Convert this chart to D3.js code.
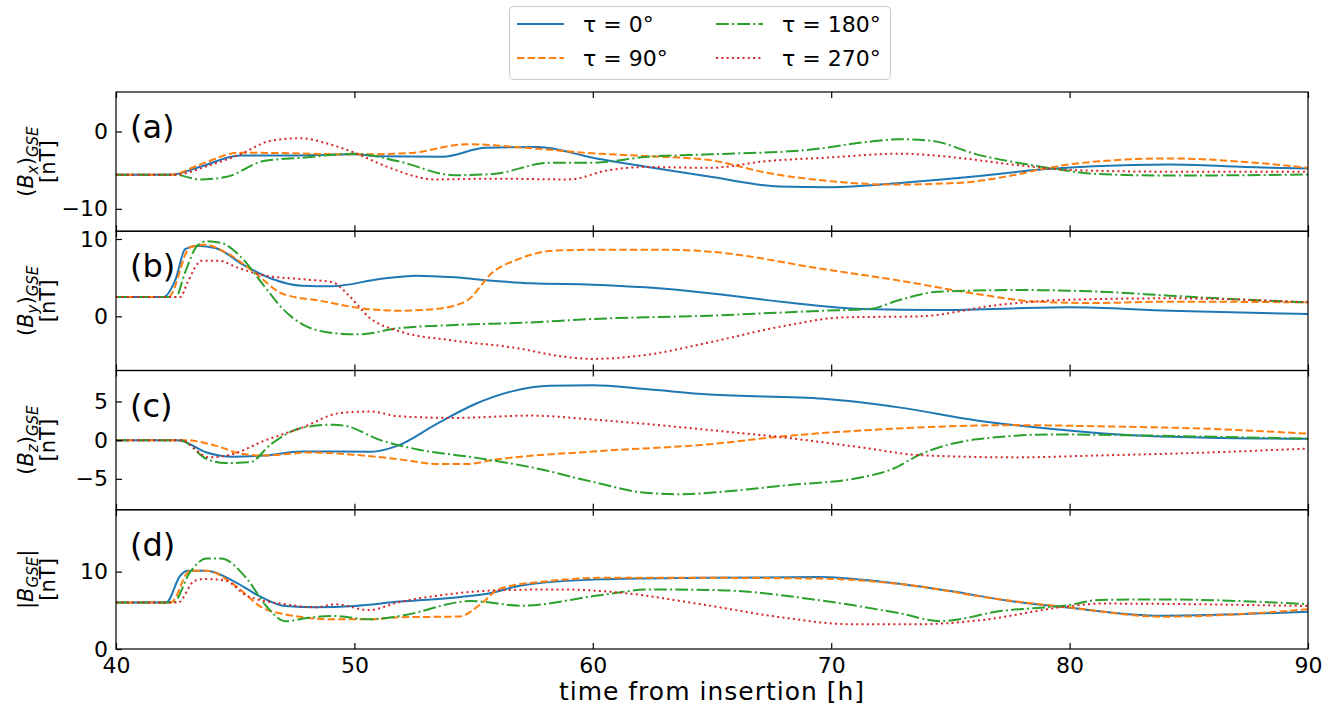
<!DOCTYPE html>
<html><head><meta charset="utf-8">
<script src="https://cdn.jsdelivr.net/npm/d3@7"></script>
<style>body{margin:0;background:#fff}svg{display:block}</style>
</head><body>
<svg id="chart" width="1336" height="709"></svg>
<script>
// ---------- data (time [h], value [nT]) ----------
const seriesNames = ["τ = 0°", "τ = 90°", "τ = 180°", "τ = 270°"];
const xTicks = [40, 50, 60, 70, 80, 90];

const bx_tau0 = [[40,-5.6],[42.3,-5.6],[43.5,-4.6],[45.2,-3.1],[47,-3.1],[50,-2.96],[51,-3.2],[53.7,-3.26],[55.5,-2.1],[57.7,-2.0],[60,-3.4],[62.5,-4.7],[65,-5.9],[67.8,-7.1],[70,-7.2],[72.9,-6.65],[76.1,-5.8],[78.9,-4.9],[81,-4.5],[84.2,-4.26],[87.4,-4.6],[90,-4.8]];
const bx_tau90 = [[40,-5.6],[42.3,-5.6],[43.5,-4.3],[45.2,-2.74],[47,-2.8],[50,-2.96],[52.3,-2.8],[54.7,-1.65],[57.4,-2.17],[60,-2.83],[62.2,-3.17],[64.9,-3.7],[67.3,-5.35],[69.7,-6.35],[72.6,-6.87],[75.3,-6.65],[77.4,-5.8],[78.9,-4.83],[80.2,-4.17],[84.2,-3.48],[87.4,-3.96],[90,-4.7]];
const bx_tau180 = [[40,-5.6],[42.5,-5.6],[43.5,-6.2],[44.6,-5.9],[46.2,-3.83],[47.8,-3.4],[50,-2.87],[51.8,-3.83],[54.2,-5.65],[55.8,-5.5],[58.2,-4.04],[60,-4.04],[62.2,-3.3],[64.9,-2.96],[68.9,-2.43],[71.3,-1.43],[72.9,-1.0],[74.2,-1.2],[76.1,-2.96],[77.8,-4.04],[79.4,-4.83],[81,-5.48],[84.2,-5.7],[90,-5.57]];
const bx_tau270 = [[40,-5.6],[42.5,-5.6],[43.8,-4.5],[45.2,-2.96],[46.5,-1.2],[47.8,-0.87],[48.7,-1.43],[50,-2.74],[51.3,-4.48],[53.4,-6.2],[55.8,-6.1],[59,-6.2],[60.6,-5.04],[62.2,-4.6],[64.9,-4.7],[67.3,-3.83],[69.7,-3.4],[72.9,-2.87],[75.3,-3.4],[77.8,-4.35],[80.2,-5.0],[84.2,-5.2],[90,-5.2]];

const by_tau0 = [[40,2.5],[42.0,2.5],[42.5,4.8],[42.9,8.7],[43.4,9.14],[44.2,8.8],[45.4,6.55],[46.5,4.9],[47.8,3.97],[49.1,3.9],[51,4.8],[52.6,5.26],[54.2,5.04],[55.8,4.6],[57.4,4.27],[60,4.1],[62.2,3.75],[64.9,3.0],[68.1,1.81],[71.3,0.95],[74.5,0.82],[80,1.16],[84.2,0.73],[90,0.3]];
const by_tau90 = [[40,2.5],[42.2,2.5],[43.1,8.9],[43.7,9.27],[44.6,8.27],[45.8,5.7],[47,2.9],[48.6,2.0],[50.2,1.08],[51.8,0.73],[53.4,0.95],[54.7,2.0],[55.8,5.7],[56.8,7.3],[58.4,8.5],[60.6,8.62],[63,8.62],[64.9,8.36],[69.7,6.1],[72.9,4.6],[76.1,2.9],[78.6,1.9],[81,1.72],[84.2,1.9],[90,1.81]];
const by_tau180 = [[40,2.5],[42.5,2.5],[42.9,5.7],[43.4,9.1],[43.8,9.7],[44.4,9.5],[45.2,7.8],[46.2,3.97],[47,0.95],[47.8,-1.0],[49.1,-2.15],[50.2,-2.33],[51.8,-1.55],[54.2,-1.12],[57.4,-0.78],[60,-0.34],[64.9,0.09],[69.7,0.73],[71.6,0.95],[72.9,2.15],[74.5,3.19],[77.8,3.4],[81,3.23],[84.2,2.67],[87.4,2.15],[90,1.81]];
const by_tau270 = [[40,2.5],[42.7,2.5],[43.0,4.4],[43.6,7.2],[44.3,7.2],[45.1,6.3],[46.2,5.3],[47.8,4.8],[49.1,4.4],[49.7,2.9],[50.7,-0.34],[51.8,-1.85],[54.2,-3.15],[56.6,-4.0],[59,-5.3],[60,-5.5],[62.2,-5.0],[64.9,-3.36],[68.1,-1.2],[70.5,-0.13],[73.7,0],[77,1.47],[80,2.15],[84.2,2.33],[90,1.81]];

const bz_tau0 = [[40,0],[42.6,0],[43.8,-1.6],[44.9,-2.15],[46.2,-2.0],[47.8,-1.47],[50.7,-1.5],[51.8,-0.74],[53.4,2.0],[55,4.57],[56.6,6.3],[58.2,7.04],[60,7.1],[62.2,6.6],[64.9,5.9],[69.7,5.34],[72.9,4.2],[76.1,2.55],[79.4,1.4],[82.6,0.62],[85.8,0.32],[90,0.19]];
const bz_tau90 = [[40,0],[42.9,0],[44.2,-0.74],[45.2,-1.72],[46.2,-2.0],[48.1,-1.6],[50,-1.9],[51.8,-2.45],[53.6,-3.1],[54.7,-3.1],[55.8,-2.57],[60,-1.47],[64.9,-0.53],[68.1,0.53],[71.3,1.25],[77.8,1.94],[81,1.8],[85.8,1.47],[90,0.83]];
const bz_tau180 = [[40,0],[42.7,0],[43.8,-2.45],[44.6,-2.96],[45.6,-2.87],[46.5,-0.53],[47.8,1.6],[49.1,2.0],[49.7,1.8],[51,0.1],[52.6,-1.17],[55,-2.23],[57.4,-3.5],[60,-5.4],[62.2,-6.8],[63.8,-7.0],[64.9,-6.8],[68.1,-5.85],[71.3,-4.8],[72.6,-3.7],[73.7,-1.9],[76.1,0.1],[79.4,0.74],[82.6,0.62],[90,0.19]];
const bz_tau270 = [[40,0],[42.7,0],[43.9,-2.23],[44.9,-1.8],[46.2,-0.1],[47.8,1.6],[49.4,3.5],[50.7,3.7],[51.8,3.1],[54.2,2.87],[57.4,3.17],[60,2.66],[62.2,2.1],[64.9,1.3],[68.1,0.32],[71.3,-0.96],[73.7,-1.94],[77.8,-2.23],[81,-2.0],[85.8,-1.6],[90,-1.09]];

const bt_tau0 = [[40,6.0],[42.1,6.0],[42.7,9.5],[43.0,10.1],[43.8,10.1],[45,8.65],[46.1,6.7],[47.1,5.56],[48.4,5.4],[50,5.56],[51.9,6.13],[54,6.6],[55.5,7.1],[57,8.2],[60.3,9.0],[64.5,9.2],[69.5,9.3],[72.1,8.7],[75,7.5],[77.5,6.2],[79.9,5.35],[83.9,4.3],[90,4.83]];
const bt_tau90 = [[40,6.0],[42.3,6.0],[43.1,10.1],[43.8,10.1],[45,8.2],[46.1,5.4],[47.1,4.48],[49.2,3.83],[50.6,3.83],[51.9,4.1],[54.4,4.2],[55.3,5.8],[56.1,7.8],[58.2,8.8],[60.3,9.2],[64.5,9.2],[69.5,9.1],[72.9,8.4],[77.1,6.4],[79.9,5.4],[83.9,4.18],[90,5.13]];
const bt_tau180 = [[40,6.0],[42.4,6.0],[43.1,9.9],[43.8,11.7],[44.4,11.7],[45.5,9.04],[46.3,5.56],[47.1,3.6],[48.1,4.04],[49.2,4.26],[50.6,3.83],[51.9,4.26],[54.9,6.2],[57,5.6],[60.3,6.95],[62.4,7.7],[65.3,7.6],[69.5,6.3],[72.9,4.6],[74.6,3.6],[77.1,4.9],[79.9,5.65],[81.3,6.35],[84,6.4],[90,5.8]];
const bt_tau270 = [[40,6.0],[42.6,6.0],[43.3,8.83],[43.8,9.04],[44.6,8.83],[45.5,6.87],[47.1,5.78],[48.4,5.4],[49.2,5.78],[50.6,5.04],[51.9,6.08],[54,7.1],[56.1,7.6],[58.6,7.7],[61.1,7.3],[64.5,5.8],[67.9,4.1],[70.8,3.2],[73.7,3.2],[76.2,3.7],[79.9,5.5],[81.3,5.87],[90,5.56]];

const panelLetters = ["(a)", "(b)", "(c)", "(d)"];
const yDomains = [[-12.9, 5.1], [-7, 11], [-9, 9], [0, 18]];
const yTickVals = [[-10, 0], [0, 10], [-5, 0, 5], [0, 10]];
const panelData = [
  [bx_tau0, bx_tau90, bx_tau180, bx_tau270],
  [by_tau0, by_tau90, by_tau180, by_tau270],
  [bz_tau0, bz_tau90, bz_tau180, bz_tau270],
  [bt_tau0, bt_tau90, bt_tau180, bt_tau270]
];

// ---------- styles ----------
const colors = ["#1f77b4", "#ff7f0e", "#2ca02c", "#d62728"];
const dashes = [null, "7.4,3.2", "12.8,3.2,2,3.2", "2,3.3"];
const font = "DejaVu Sans, sans-serif";

const svg = d3.select("#chart");
const L = 116, R = 1308, T0 = 92, PH = 139.25;

const x = d3.scaleLinear().domain([40, 90]).range([L, R]);

panelData.forEach((series, i) => {
  const top = T0 + i * PH, bot = top + PH;
  const y = d3.scaleLinear().domain(yDomains[i]).range([bot, top]);
  const g = svg.append("g");
  const clipId = "clip" + i;
  svg.append("clipPath").attr("id", clipId).append("rect")
    .attr("x", L).attr("y", top).attr("width", R - L).attr("height", PH);

  const line = d3.line().x(d => x(d[0])).y(d => y(d[1])).curve(d3.curveMonotoneX);
  const lg = g.append("g").attr("clip-path", `url(#${clipId})`);
  series.forEach((s, k) => {
    lg.append("path").datum(s).attr("d", line)
      .attr("fill", "none").attr("stroke", colors[k]).attr("stroke-width", 2)
      .attr("stroke-dasharray", dashes[k]);
  });

  // y axis (inward ticks)
  const ya = g.append("g").attr("transform", `translate(${L},0)`)
    .call(d3.axisLeft(y).tickValues(yTickVals[i]).tickSizeInner(-6).tickSizeOuter(0).tickPadding(8).tickFormat(d => d < 0 ? "\u2212" + Math.abs(d) : d));
  ya.select(".domain").remove();
  ya.selectAll("text").attr("font-family", font).attr("font-size", 22).attr("fill", "#000");
  ya.selectAll("line").attr("stroke", "#000").attr("stroke-width", 1.2);

  // x axis bottom & top (inward)
  const xb = g.append("g").attr("transform", `translate(0,${bot})`)
    .call(d3.axisBottom(x).tickValues(xTicks).tickSizeInner(-6).tickSizeOuter(0).tickPadding(8));
  xb.select(".domain").remove();
  xb.selectAll("line").attr("stroke", "#000").attr("stroke-width", 1.2);
  xb.selectAll("text").attr("font-family", font).attr("font-size", 22).attr("fill", "#000")
    .style("display", i === 3 ? null : "none");
  const xt = g.append("g").attr("transform", `translate(0,${top})`)
    .call(d3.axisTop(x).tickValues(xTicks).tickSizeInner(-6).tickSizeOuter(0).tickFormat(""));
  xt.select(".domain").remove();
  xt.selectAll("line").attr("stroke", "#000").attr("stroke-width", 1.2);

  // frame
  g.append("rect").attr("x", L).attr("y", top).attr("width", R - L).attr("height", PH)
    .attr("fill", "none").attr("stroke", "#000").attr("stroke-width", 1.2);

  // panel letter
  g.append("text").attr("x", 130).attr("y", top + 46).text(panelLetters[i])
    .attr("font-family", font).attr("font-size", 32).attr("fill", "#000");

  // y label
  const yl = g.append("g").attr("transform", `translate(33,${(top + bot) / 2}) rotate(-90)`)
    .attr("font-family", font).attr("font-size", 21).attr("fill", "#000");
  const t1 = yl.append("text").attr("text-anchor", "middle").attr("x", 0).attr("y", 0);
  const comp = ["x", "y", "z"][i];
  if (i < 3) {
    t1.append("tspan").text("(");
    t1.append("tspan").attr("font-style", "italic").text("B");
    t1.append("tspan").attr("font-style", "italic").attr("font-size", 15).attr("dy", 5).text(comp);
    t1.append("tspan").attr("dy", -5).text(")");
    t1.append("tspan").attr("font-style", "italic").attr("font-size", 15).attr("dy", 5).text("GSE");
  } else {
    t1.append("tspan").text("|");
    t1.append("tspan").attr("font-style", "italic").text("B");
    t1.append("tspan").attr("font-style", "italic").attr("font-size", 15).attr("dy", 5).text("GSE");
    t1.append("tspan").attr("dy", -5).text("|");
  }
  yl.append("text").attr("text-anchor", "middle").attr("x", 0).attr("y", 22).text("[nT]");
});

// x label
svg.append("text").attr("x", (L + R) / 2).attr("y", 700).attr("text-anchor", "middle")
  .attr("font-family", font).attr("font-size", 25).attr("letter-spacing", 1).attr("fill", "#000")
  .text("time from insertion [h]");

// legend
const leg = svg.append("g");
leg.append("rect").attr("x", 509.5).attr("y", 6.5).attr("width", 381).attr("height", 73).attr("rx", 4)
  .attr("fill", "#fff").attr("stroke", "#cccccc").attr("stroke-width", 1);
const legPos = [[517, 24], [517, 58], [716, 24], [716, 58]];
seriesNames.forEach((name, k) => {
  const [lx, ly] = legPos[k];
  leg.append("line").attr("x1", lx).attr("x2", lx + 47).attr("y1", ly).attr("y2", ly)
    .attr("stroke", colors[k]).attr("stroke-width", 2).attr("stroke-dasharray", dashes[k]);
  leg.append("text").attr("x", lx + 66).attr("y", ly).attr("dy", "0.35em").text(name)
    .attr("font-family", font).attr("font-size", 22).attr("fill", "#000");
});
</script>
</body></html>
